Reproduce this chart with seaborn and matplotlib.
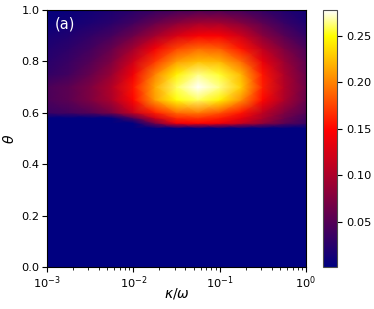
import numpy as np
import seaborn as sns
import matplotlib.pyplot as plt
from matplotlib.colors import LinearSegmentedColormap

# kappa/omega grid (log10), theta grid
log_kappa = [-3, -2.75, -2.5, -2.25, -2, -1.75, -1.5, -1.25, -1, -0.75, -0.5, -0.25, 0]
theta = [0.0, 0.54, 0.56, 0.58, 0.6, 0.65, 0.7, 0.75, 0.8, 0.85, 0.9, 0.95, 1.0]

z0 = 0.0016
row_000 = [z0] * 13
row_054 = [z0] * 13
row_056 = [z0, z0, z0, z0, z0, 0.07, 0.14, 0.15, 0.14, 0.115, 0.085, 0.055, 0.035]
row_058 = [z0, z0, z0, z0, 0.05, 0.12, 0.165, 0.17, 0.16, 0.135, 0.1, 0.065, 0.04]
row_060 = [0.035, 0.04, 0.05, 0.07, 0.115, 0.16, 0.19, 0.195, 0.18, 0.155, 0.11, 0.075, 0.05]
row_065 = [0.045, 0.055, 0.075, 0.1, 0.15, 0.21, 0.25, 0.26, 0.245, 0.205, 0.15, 0.1, 0.06]
row_070 = [0.045, 0.055, 0.075, 0.105, 0.155, 0.215, 0.26, 0.278, 0.265, 0.23, 0.16, 0.105, 0.065]
row_075 = [0.03, 0.04, 0.06, 0.09, 0.14, 0.2, 0.245, 0.265, 0.255, 0.22, 0.155, 0.1, 0.06]
row_080 = [0.025, 0.035, 0.05, 0.075, 0.12, 0.17, 0.21, 0.225, 0.22, 0.19, 0.135, 0.09, 0.055]
row_085 = [0.02, 0.028, 0.04, 0.06, 0.095, 0.14, 0.175, 0.19, 0.185, 0.155, 0.11, 0.072, 0.045]
row_090 = [0.015, 0.02, 0.03, 0.042, 0.065, 0.095, 0.125, 0.145, 0.145, 0.12, 0.08, 0.052, 0.03]
row_095 = [0.008, 0.012, 0.018, 0.026, 0.04, 0.06, 0.08, 0.095, 0.095, 0.078, 0.055, 0.033, 0.018]
row_100 = [0.005, 0.008, 0.012, 0.018, 0.025, 0.032, 0.04, 0.045, 0.045, 0.04, 0.03, 0.02, 0.012]

rows = [row_000, row_054, row_056, row_058, row_060, row_065, row_070,
        row_075, row_080, row_085, row_090, row_095, row_100]

cbar_ticks = [0.05, 0.10, 0.15, 0.20, 0.25]


def make_cmap():
    return LinearSegmentedColormap.from_list(
        "navy_heat",
        [(0.0, "#000080"), (0.53, "#ff0000"), (0.9, "#ffff00"), (1.0, "#ffffff")])


def main():
    sns.set_style("ticks", {"axes.edgecolor": "black", "text.color": "black",
                            "axes.labelcolor": "black", "xtick.color": "black",
                            "ytick.color": "black"})
    plt.rcParams['font.family'] = ['DejaVu Sans']
    plt.rcParams['font.size'] = 8.2

    Z = np.array(rows)
    X, Y = np.meshgrid(10.0 ** np.array(log_kappa), np.array(theta))

    fig = plt.figure(figsize=(3.74, 3.09), dpi=100)
    ax = fig.add_axes([0.126, 0.136, 0.692, 0.832])
    cax = fig.add_axes([0.864, 0.136, 0.037, 0.832])

    mesh = ax.pcolormesh(X, Y, Z, shading='gouraud', cmap=make_cmap(),
                         vmin=Z.min(), vmax=Z.max(), rasterized=True)
    ax.set_xscale('log')
    ax.set_xlim(1e-3, 1)
    ax.set_ylim(0, 1)
    ax.set_xlabel(r'$\kappa/\omega$', fontsize=10)
    ax.set_ylabel(r'$\theta$', fontsize=10)
    ax.xaxis.set_label_coords(0.5, -0.075)
    ax.yaxis.set_label_coords(-0.115, 0.5)
    ax.tick_params(labelsize=8.2, length=3.5, width=0.8, pad=2)
    ax.tick_params(which='minor', length=2, width=0.6)
    ax.text(0.03, 0.975, '(a)', color='white', fontsize=10.5,
            transform=ax.transAxes, ha='left', va='top')

    cb = fig.colorbar(mesh, cax=cax, ticks=cbar_ticks)
    cb.ax.tick_params(labelsize=8.2, length=3.5, width=0.8)
    cb.ax.yaxis.set_major_formatter(plt.FormatStrFormatter('%.2f'))
    cb.outline.set_edgecolor('0.3')

    fig.savefig('out.png', dpi=100)


if __name__ == "__main__":
    main()
